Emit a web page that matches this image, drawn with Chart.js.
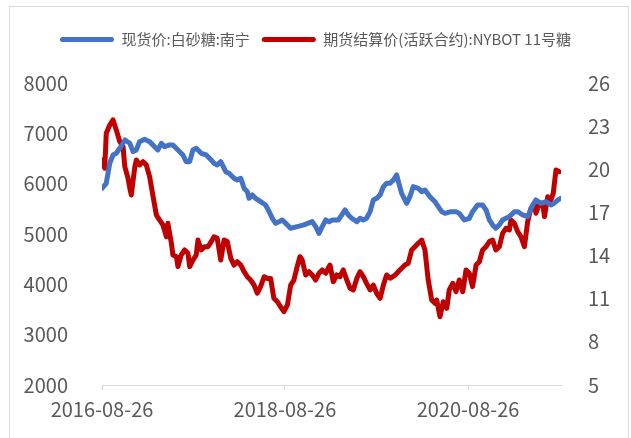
<!DOCTYPE html>
<html>
<head>
<meta charset="utf-8">
<script src="https://cdn.jsdelivr.net/npm/chart.js@4/dist/chart.umd.min.js"></script>
<style>
html,body{margin:0;padding:0;background:#fff;overflow:hidden}
#frame{position:absolute;left:9px;top:6px;width:618px;height:500px;border:1px solid #d9d9d9}
#c{position:absolute;left:0;top:0}
</style>
</head>
<body>
<div id="frame"></div>
<canvas id="c" width="631" height="438"></canvas>
<script>
// =========================
// DATA (x = days since 2016-08-26)
// =========================

let startDate="2016-08-26"
let tickDates=["2016-08-26","2018-08-26","2020-08-26"]

let seriesNames=["现货价:白砂糖:南宁","期货结算价(活跃合约):NYBOT 11号糖"]

// spot price, Nanning white sugar (left axis)
let spotDays=[0,17,31,44,57,71,92,111,124,137,150,170,190,210,223,237,250,270,283,303,
323,336,350,363,376,396,416,436,447,460,474,494,507,527,540,554,567,580,587,600,
613,633,653,667,680,693,706,720,733,753,779,806,839,853,866,879,893,906,919,929,
943,957,970,983,997,1017,1030,1043,1056,1070,1083,1096,1110,1123,1136,1150,1163,1176,1183,1196,
1216,1229,1242,1262,1276,1289,1309,1329,1342,1356,1369,1393,1413,1426,1446,1466,1479,1499,1519,1533,
1546,1559,1572,1586,1599,1612,1626,1646,1659,1679,1699,1719,1732,1752,1772,1792,1805,1819,1832]
let spotVals=[5908,6008,6405,6570,6604,6703,6868,6802,6636,6670,6835,6882,6835,6735,6670,6802,6735,6769,6769,6670,
6570,6437,6437,6670,6703,6604,6570,6471,6405,6371,6437,6238,6206,6107,6073,6107,5908,5841,5709,5775,
5709,5642,5576,5444,5312,5213,5245,5279,5213,5114,5146,5180,5245,5146,5014,5146,5279,5245,5279,5279,
5279,5378,5477,5378,5312,5245,5312,5279,5312,5444,5676,5709,5775,5940,6008,6008,6073,6173,6040,5808,
5610,5742,5940,5908,5841,5875,5742,5642,5543,5444,5410,5444,5444,5410,5279,5312,5444,5576,5576,5477,
5279,5180,5114,5180,5279,5312,5345,5444,5444,5378,5345,5576,5676,5610,5642,5576,5610,5676,5709]

// NYBOT No.11 settlement price (right axis)
let futDays=[0,11,17,31,44,57,71,84,91,104,111,117,131,137,150,164,177,190,204,217,
230,243,257,263,277,283,297,303,316,330,343,350,363,376,383,396,410,423,436,447,
460,474,487,500,514,527,540,554,567,580,593,607,620,633,647,660,673,686,700,713,
726,740,753,766,779,790,799,813,826,839,853,866,879,893,906,910,923,937,950,963,
977,990,1003,1017,1030,1043,1056,1070,1083,1096,1110,1123,1136,1150,1170,1189,1209,1222,1236,1249,
1262,1276,1289,1302,1316,1329,1336,1349,1362,1376,1386,1400,1413,1426,1440,1453,1466,1479,1493,1506,
1519,1533,1546,1559,1572,1586,1599,1612,1626,1632,1646,1659,1672,1686,1699,1712,1726,1732,1746,1759,
1766,1779,1792,1801,1812,1825]
let futVals=[20.65,20.07,22.50,23.08,23.43,22.73,21.92,21.57,20.18,19.37,18.68,18.21,20.18,20.65,20.30,20.53,20.30,19.49,18.09,16.82,
16.47,16.13,15.31,16.24,14.85,14.04,13.92,13.23,14.04,14.39,14.16,13.23,13.69,14.04,15.08,14.39,14.62,14.62,14.97,15.31,
15.20,13.69,15.08,14.97,13.81,13.34,13.57,13.34,12.88,12.53,12.30,11.95,11.38,11.84,12.53,12.41,12.41,11.03,10.79,10.44,
10.10,10.56,11.95,12.30,13.23,13.92,13.69,12.65,12.88,12.65,12.30,12.77,13.00,12.77,13.23,13.34,12.18,12.65,12.53,13.00,
12.30,11.72,11.61,12.41,12.88,12.53,12.07,11.61,11.95,11.38,11.03,11.95,12.65,12.42,12.65,13.00,13.34,13.46,14.39,14.62,
14.85,15.08,14.39,12.30,10.91,10.68,10.91,9.75,10.79,10.33,11.61,12.07,11.49,12.30,11.49,13.00,12.77,11.84,13.34,13.57,
14.39,14.62,14.97,15.08,14.39,14.62,15.55,15.89,15.78,16.47,16.24,15.66,15.31,14.62,16.36,17.29,17.52,16.94,17.63,17.63,
16.71,18.09,17.86,18.33,19.95,19.83]

let leftTicks=[2000,3000,4000,5000,6000,7000,8000]
let rightTicks=[5,8,11,14,17,20,23,26]

// =========================
// HELPERS
// =========================

function dayOf(d){
return Math.round((Date.parse(d)-Date.parse(startDate))/864e5)
}

let tickDays=tickDates.map(dayOf)

let textColor="#595959"
let fontFam="'Noto Sans CJK SC','Noto Sans',sans-serif"

// legend box sized so the plot starts at the same height as the original
let legendSpace={
id:"legendSpace",
beforeUpdate(chart){
if(chart.legend && !chart.legend._patched){
let fit=chart.legend.fit
chart.legend.fit=function(){
fit.call(this)
this.height=63
}
chart.legend._patched=true
}
}
}

// =========================
// CHART
// =========================

new Chart(document.getElementById("c"),{

type:"line",

data:{
datasets:[{
label:seriesNames[0],
data:spotDays.map((d,i)=>({x:d,y:spotVals[i]})),
borderColor:"#4472C4",
backgroundColor:"#4472C4",
borderWidth:5,
pointRadius:0,
yAxisID:"y"
},{
label:seriesNames[1],
data:futDays.map((d,i)=>({x:d,y:futVals[i]})),
borderColor:"#C00000",
backgroundColor:"#C00000",
borderWidth:5,
pointRadius:0,
yAxisID:"y1"
}]
},

options:{
responsive:false,
animation:false,
layout:{padding:{top:20,left:0,right:0,bottom:0}},
elements:{line:{tension:0,borderJoinStyle:"round",borderCapStyle:"round"}},
plugins:{
tooltip:{enabled:false},
legend:{
position:"top",
labels:{
color:textColor,
font:{family:fontFam,size:15},
boxWidth:54,
boxHeight:5,
padding:12,
generateLabels(chart){
return chart.data.datasets.map((ds,i)=>({
text:ds.label,
fillStyle:ds.borderColor,
strokeStyle:ds.borderColor,
lineWidth:0,
borderRadius:2.5,
fontColor:textColor,
datasetIndex:i
}))
},
useBorderRadius:true
}
}
},
scales:{
x:{
type:"linear",
min:0,
max:1832,
afterBuildTicks(s){
s.ticks=tickDays.map(v=>({value:v}))
},
afterFit(s){s.height=53},
ticks:{
color:textColor,
font:{family:fontFam,size:20},
padding:7,
maxRotation:0,
autoSkip:false,
callback:(v)=>tickDates[tickDays.indexOf(v)]
},
grid:{drawOnChartArea:false,color:"#d9d9d9",tickLength:5},
border:{color:"#d9d9d9",width:1}
},
y:{
position:"left",
min:2000,
max:8000,
afterBuildTicks(s){
s.ticks=leftTicks.map(v=>({value:v}))
},
afterFit(s){s.width=102},
ticks:{color:textColor,font:{family:fontFam,size:20},padding:26,callback:(v)=>String(v)},
grid:{display:false},
border:{display:false}
},
y1:{
position:"right",
min:5,
max:26,
afterBuildTicks(s){
s.ticks=rightTicks.map(v=>({value:v}))
},
afterFit(s){s.width=70},
ticks:{color:textColor,font:{family:fontFam,size:20},padding:19,callback:(v)=>String(v)},
grid:{display:false},
border:{display:false}
}
}
},

plugins:[legendSpace]

})
</script>
</body>
</html>
